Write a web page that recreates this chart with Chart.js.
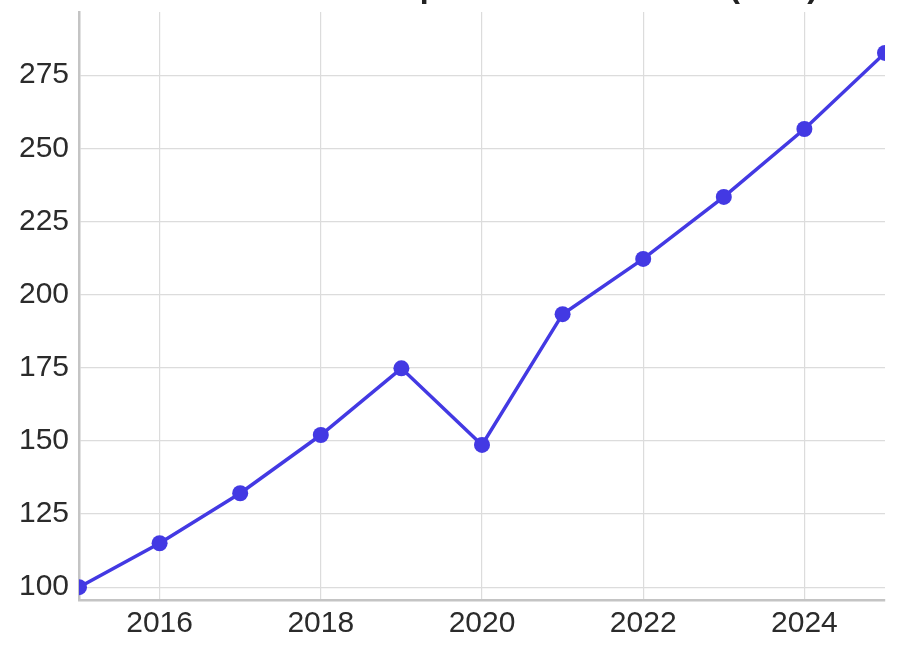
<!DOCTYPE html>
<html>
<head>
<meta charset="utf-8">
<script src="https://cdn.jsdelivr.net/npm/chart.js@4"></script>
<style>
  html, body { margin: 0; padding: 0; background: #fff; }
  #wrap { position: relative; width: 910px; height: 646px; }
</style>
</head>
<body>
<div id="wrap"><canvas id="myChart"></canvas></div>
<script>
const years = [2015, 2016, 2017, 2018, 2019, 2020, 2021, 2022, 2023, 2024, 2025];
const values = [100, 115.0, 132.1, 152.0, 174.8, 148.6, 193.3, 212.2, 233.4, 256.6, 282.6];
const xTicks = [2016, 2018, 2020, 2022, 2024];
const yTicks = [100, 125, 150, 175, 200, 225, 250, 275];
const titleText = 'Annual Global Smartphone Market Index (USD)';

const ctx = document.getElementById('myChart');
const lineColor = '#4339e3';
const font = '"Liberation Sans", Arial, sans-serif';

// title sits above the canvas edge, only its lower part shows
const cutTitle = {
    id: 'cutTitle',
    afterDraw(chart) {
        const c = chart.ctx;
        c.save();
        c.font = 'bold 32px ' + font;
        c.fillStyle = '#222';
        c.textAlign = 'right';
        c.textBaseline = 'alphabetic';
        c.fillText(titleText, 818, -3);
        c.restore();
    }
};

const chart = new Chart(ctx, {
    type: 'line',
    data: {
        datasets: [{
            data: years.map((y, i) => ({ x: y, y: values[i] })),
            borderColor: lineColor,
            backgroundColor: lineColor,
            borderWidth: 3.5,
            pointRadius: 8,
            pointHoverRadius: 8,
            pointBorderWidth: 0,
            tension: 0,
            clip: 0
        }]
    },
    options: {
        responsive: true,
        maintainAspectRatio: false,
        animation: false,
        layout: { padding: { left: 18, right: 25, top: 12, bottom: 0 } },
        plugins: {
            legend: { display: false },
            tooltip: { enabled: false }
        },
        scales: {
            x: {
                type: 'linear',
                min: 2015,
                max: 2025,
                afterBuildTicks: (s) => { s.ticks = xTicks.map(v => ({ value: v })); },
                afterFit: (s) => { s.height = 46; s.paddingLeft = 0; s.paddingRight = 0; },
                grid: { color: '#dcdcdc', lineWidth: 1.2, drawTicks: false },
                border: { color: '#c4c4c4', width: 2.5 },
                ticks: {
                    padding: 6,
                    color: '#2b2b2b',
                    font: { family: font, size: 30 },
                    callback: (v) => String(v)
                }
            },
            y: {
                min: 95.6,
                max: 296.6,
                afterBuildTicks: (s) => { s.ticks = yTicks.map(v => ({ value: v })); },
                afterFit: (s) => { s.width = 61; s.paddingTop = 0; s.paddingBottom = 0; },
                grid: { color: '#dcdcdc', lineWidth: 1.2, drawTicks: false },
                border: { color: '#c4c4c4', width: 2.5 },
                ticks: {
                    padding: 10,
                    color: '#2b2b2b',
                    font: { family: font, size: 30 },
                    callback: (v) => String(v)
                }
            }
        }
    },
    plugins: [cutTitle]
});
</script>
</body>
</html>
